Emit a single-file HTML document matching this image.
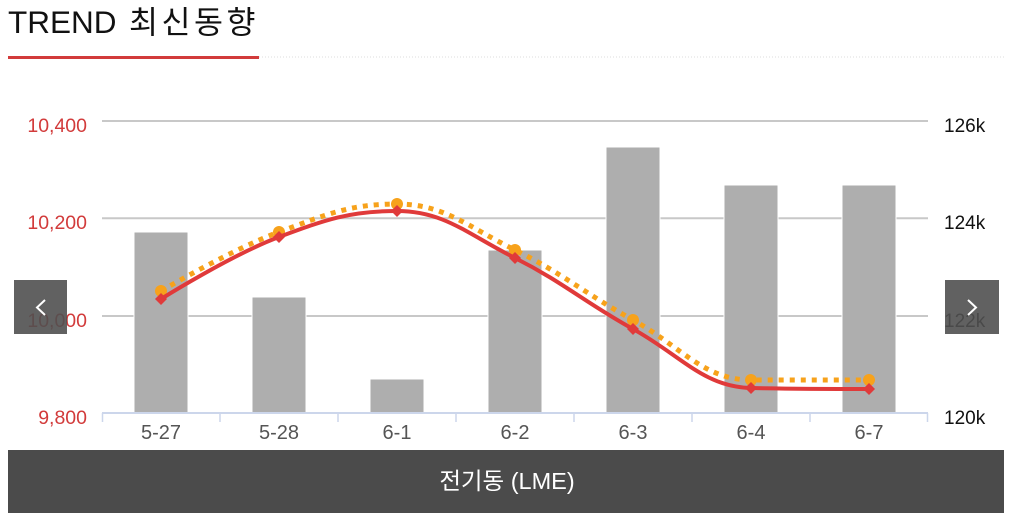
<!DOCTYPE html>
<html><head><meta charset="utf-8"><style>
html,body{margin:0;padding:0;background:#fff;}
body{width:1010px;height:517px;overflow:hidden;position:relative;font-family:"Liberation Sans","Noto Sans CJK KR",sans-serif;}
svg{position:absolute;left:0;top:0;}
</style></head><body>
<svg width="1010" height="517" viewBox="0 0 1010 517" xmlns="http://www.w3.org/2000/svg" font-family="Liberation Sans, Noto Sans CJK KR, sans-serif">
<text x="8" y="33" font-size="31.5" fill="#111">TREND <tspan x="129" letter-spacing="3.5">최신동향</tspan></text>
<line x1="259" y1="57" x2="1004" y2="57" stroke="#ddd" stroke-width="1" stroke-dasharray="1,2"/>
<rect x="8" y="56" width="251" height="3" fill="#d23b3b"/>

<!-- grid -->
<g stroke="#c8c8c8" stroke-width="2">
<line x1="102" y1="121" x2="928" y2="121"/>
<line x1="102" y1="218.3" x2="928" y2="218.3"/>
<line x1="102" y1="316" x2="928" y2="316"/>
</g>
<!-- bars -->
<g fill="#aeaeae" stroke="#fff" stroke-width="1">
<rect x="134" y="232" width="54" height="181"/>
<rect x="252" y="297" width="54" height="116"/>
<rect x="370" y="379" width="54" height="34"/>
<rect x="488" y="250" width="54" height="163"/>
<rect x="606" y="147" width="54" height="266"/>
<rect x="724" y="185" width="54" height="228"/>
<rect x="842" y="185" width="54" height="228"/>
</g>
<!-- x axis -->
<line x1="102" y1="413" x2="928" y2="413" stroke="#ccd6eb" stroke-width="2"/>
<g stroke="#ccd6eb" stroke-width="1.5">
<line x1="102.5" y1="413" x2="102.5" y2="422"/>
<line x1="220" y1="413" x2="220" y2="422"/>
<line x1="338" y1="413" x2="338" y2="422"/>
<line x1="456" y1="413" x2="456" y2="422"/>
<line x1="574" y1="413" x2="574" y2="422"/>
<line x1="692" y1="413" x2="692" y2="422"/>
<line x1="810" y1="413" x2="810" y2="422"/>
<line x1="927.5" y1="413" x2="927.5" y2="422"/>
</g>
<g font-size="20" fill="#555" text-anchor="middle">
<text x="161" y="439">5-27</text>
<text x="279" y="439">5-28</text>
<text x="397" y="439">6-1</text>
<text x="515" y="439">6-2</text>
<text x="633" y="439">6-3</text>
<text x="751" y="439">6-4</text>
<text x="869" y="439">6-7</text>
</g>
<g font-size="19.5" fill="#d23b3b" text-anchor="end">
<text x="87" y="132">10,400</text>
<text x="87" y="229">10,200</text>
<text x="87" y="327">10,000</text>
<text x="87" y="424">9,800</text>
</g>
<g font-size="19" fill="#111" text-anchor="start">
<text x="944" y="132">126k</text>
<text x="944" y="229">124k</text>
<text x="944" y="327">122k</text>
<text x="944" y="424">120k</text>
</g>

<!-- orange dotted series -->
<path d="M161,291 C161,291 231.8,249.4 279,232 C326.2,214.6 349.8,204 397,204 C444.2,204 467.8,226.8 515,250 C562.2,273.2 585.8,294 633,320 C680.2,346 703.8,380 751,380 C798.2,380 869,380 869,380" fill="none" stroke="#f7a21b" stroke-width="5" stroke-dasharray="5,6"/>
<g fill="#f7a21b">
<circle cx="161" cy="291" r="6"/>
<circle cx="279" cy="232" r="6"/>
<circle cx="397" cy="204" r="6"/>
<circle cx="515" cy="250" r="6"/>
<circle cx="633" cy="320" r="6"/>
<circle cx="751" cy="380" r="6"/>
<circle cx="869" cy="380" r="6"/>
</g>
<!-- red series -->
<path d="M161,299 C161,299 231.8,254.6 279,237 C326.2,219.4 349.8,211 397,211 C444.2,211 467.8,234.4 515,258 C562.2,281.6 585.8,303 633,329 C680.2,355 703.8,387 751,388 C798.2,389 869,389 869,389" fill="none" stroke="#e03a3a" stroke-width="4"/>
<g fill="#e03a3a">
<path d="M161,293 l6,6 l-6,6 l-6,-6z"/>
<path d="M279,231 l6,6 l-6,6 l-6,-6z"/>
<path d="M397,205 l6,6 l-6,6 l-6,-6z"/>
<path d="M515,252 l6,6 l-6,6 l-6,-6z"/>
<path d="M633,323 l6,6 l-6,6 l-6,-6z"/>
<path d="M751,382 l6,6 l-6,6 l-6,-6z"/>
<path d="M869,383 l6,6 l-6,6 l-6,-6z"/>
</g>

<!-- nav buttons -->
<rect x="14" y="280" width="53" height="54" fill="#505050" fill-opacity="0.9"/>
<polyline points="45,300 37,307.5 45,315" fill="none" stroke="#fff" stroke-width="2"/>
<rect x="945" y="280" width="54" height="54" fill="#505050" fill-opacity="0.9"/>
<polyline points="968,300 976,307.5 968,315" fill="none" stroke="#fff" stroke-width="2"/>

<!-- bottom bar -->
<rect x="8" y="450" width="996" height="63" fill="#4b4b4b"/>
<text x="507" y="489" font-size="23.5" fill="#fff" text-anchor="middle">전기동 (LME)</text>
</svg>
</body></html>
